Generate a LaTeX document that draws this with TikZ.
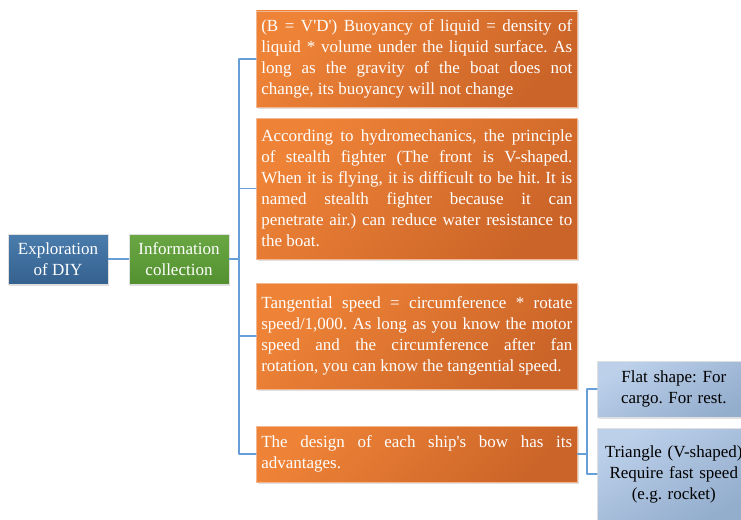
\documentclass[tikz,border=0pt]{standalone}
\usepackage{fontspec}
\setmainfont{Liberation Serif}
\usepackage{tikz}
\usetikzlibrary{calc}
\usetikzlibrary{shadows}
\definecolor{linkblue}{rgb}{0.40,0.62,0.85}
\definecolor{orangetop}{HTML}{EE8337}
\definecolor{orangebot}{HTML}{CB6428}
\definecolor{orangeedge}{HTML}{F2B690}
\definecolor{navytop}{HTML}{4A7DAD}
\definecolor{navybot}{HTML}{35618E}
\definecolor{greentop}{HTML}{6AA744}
\definecolor{greenbot}{HTML}{53902F}
\definecolor{skytop}{HTML}{BCD0EA}
\definecolor{skybot}{HTML}{93ADCD}
\tikzstyle{every node}=[font=\rmfamily\frenchspacing\fontsize{17}{21}\selectfont]
\tikzstyle{box}=[rectangle,draw=white!75!gray,line width=0.6pt,inner ysep=0pt,
  drop shadow={opacity=0.25,shadow xshift=1.2pt,shadow yshift=-1.5pt}]
\tikzstyle{rootbox}=[box,top color=navytop,bottom color=navybot,text=white,align=center,
  minimum width=100pt,minimum height=50pt]
\tikzstyle{infobox}=[box,top color=greentop,bottom color=greenbot,text=white,align=center,
  minimum width=100pt,minimum height=50pt]
\tikzstyle{factbox}=[box,draw=orangeedge,top color=orangetop,bottom color=orangebot,shading angle=45,
  text=white,text width=311pt,inner xsep=5pt,align=justify,anchor=west]
\tikzstyle{shapebox}=[box,top color=skytop,bottom color=skybot,shading angle=30,
  text=black,text width=149pt,inner xsep=2pt,align=center,anchor=west]
\tikzstyle{link}=[line width=1.2pt,color=linkblue]

\begin{document}
\begin{tikzpicture}[line cap=round,line join=round,x=1.0pt,y=-1.0pt]
                \useasboundingbox (0,0) rectangle (741,519);
                \clip (0,0) rectangle (741,519);
                \node [rootbox] (diy) at (58,259) {Exploration\\of DIY};
                \node [infobox] (info) at (179,259) {Information\\collection};
                \node [factbox,minimum height=96pt] (buoy) at (256,59)
                {(B = V\textquotesingle D\textquotesingle) Buoyancy of liquid = density of\linebreak
                liquid * volume under the liquid surface. As\linebreak
                long as the gravity of the boat does not\linebreak
                change, its buoyancy will not change};
                \node [factbox,minimum height=141pt] (stealth) at (256,188.5)
                {According to hydromechanics, the principle\linebreak
                of stealth fighter (The front is V-shaped.\linebreak
                When it is flying, it is difficult to be hit. It is\linebreak
                named stealth fighter because it can\linebreak
                penetrate air.) can reduce water resistance to\linebreak
                the boat.};
                \node [factbox,minimum height=106pt] (speed) at (256,336)
                {Tangential speed = circumference * rotate\linebreak
                speed/1,000. As long as you know the motor\linebreak
                speed and the circumference after fan\linebreak
                rotation, you can know the tangential speed.};
                \node [factbox,minimum height=56pt] (bow) at (256,454)
                {The design of each ship\textquotesingle s bow has its\linebreak
                advantages.};
                \node [shapebox,minimum height=56pt] (flat) at (597,389) {Flat shape: For\\cargo. For rest.};
                \node [shapebox,minimum height=92pt] (vee) at (597,474) {Triangle (V-shaped)\\Require fast speed\\(e.g. rocket)};
                \coordinate (trunk) at (239,259);
                \coordinate (branch) at (587,454);
                \draw [link] (diy) -- (info);
                \draw [link] (info.east) -- (trunk);
                \draw [link] (trunk |- buoy.west) -- (trunk |- bow.west);
                \foreach \n in {buoy,stealth,speed,bow}
                    \draw [link] (trunk |- \n.west) -- (\n.west);
                \draw [link] (bow.east) -- (branch);
                \draw [link] (branch |- flat.west) -- (branch |- vee.west);
                \foreach \n in {flat,vee}
                    \draw [link] (branch |- \n.west) -- (\n.west);
            \end{tikzpicture}
\end{document}
